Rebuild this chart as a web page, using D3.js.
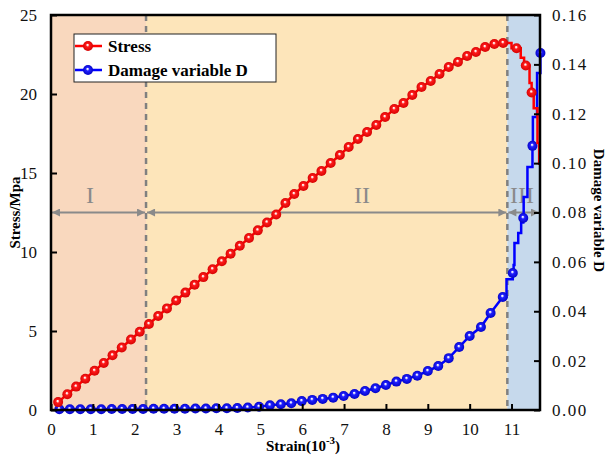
<!DOCTYPE html>
<html>
<head>
<meta charset="utf-8">
<script src="https://cdn.jsdelivr.net/npm/d3@7"></script>
<style>
  body { margin: 0; background: #fff; }
  svg { display: block; }
</style>
</head>
<body>
<div id="chart"></div>
<script>
// données
const stressStrain = [0.17,0.39,0.60,0.82,1.04,1.26,1.47,1.69,1.91,2.12,2.34,2.56,2.77,2.99,3.21,3.43,3.64,3.86,4.08,4.29,4.51,4.73,4.94,5.16,5.38,
  5.60,5.81,6.03,6.25,6.46,6.68,6.90,7.11,7.33,7.55,7.77,7.98,8.20,8.42,8.63,8.85,9.07,9.28,9.50,9.72,9.94,10.15,10.37,10.59,10.80];
const stressValues = [0.50,1.00,1.48,1.98,2.48,2.98,3.46,3.96,4.46,4.95,5.44,5.95,6.43,6.93,7.43,7.93,8.41,8.91,9.41,9.89,10.39,10.89,11.37,11.87,12.37,
  13.10,13.67,14.18,14.68,15.13,15.63,16.14,16.65,17.15,17.59,18.04,18.54,19.05,19.43,19.94,20.44,20.82,21.27,21.71,22.03,22.41,22.66,22.97,23.16,23.23];
// zone III (ligne en escalier)
const stressTailStrain = [10.80,11.00,11.12,11.22,11.30,11.34,11.43,11.48,11.53,11.62,11.66];
const stressTailValues = [23.23,22.90,22.90,22.30,21.80,21.80,20.70,20.10,19.10,16.90,15.50];
const stressTailMarks  = [1,0,1,0,0,1,0,1,0,0,0];

const damageStrain = [0.20,0.45,0.70,0.95,1.20,1.45,1.70,1.95,2.20,2.45,2.70,2.95,3.20,3.45,3.70,3.95,4.20,4.45,4.70,
  4.97,5.23,5.49,5.74,5.99,6.24,6.49,6.74,6.99,7.25,7.50,7.75,8.00,8.25,8.50,8.75,9.00,9.25,9.50,9.75,10.00,10.27,10.50,10.79];
const damageValues = [0.0003,0.0003,0.0003,0.0003,0.0003,0.0004,0.0004,0.0004,0.0004,0.0005,0.0005,0.0005,0.0005,0.0006,0.0006,0.0007,0.0007,0.0008,0.0010,
  0.0013,0.0019,0.0023,0.0027,0.0036,0.0041,0.0045,0.0050,0.0057,0.0065,0.0077,0.0088,0.0101,0.0115,0.0126,0.0139,0.0158,0.0178,0.0210,0.0255,0.0300,0.0336,0.0393,0.0458];
const damageTailStrain = [10.79,10.88,11.03,11.05,11.07,11.16,11.23,11.28,11.29,11.38,11.50,11.51,11.61,11.69];
const damageTailValues = [0.0458,0.0530,0.0555,0.0587,0.0676,0.0717,0.0760,0.0778,0.0863,0.0984,0.1070,0.1187,0.1365,0.1446];
const damageTailMarks  = [1,0,1,0,0,0,0,1,0,0,1,0,0,1];

// zones
const zoneBounds = [0, 2.27, 10.9, 11.68];
const zoneNames = ["I", "II", "III"];
const zoneColors = ["#f9d8be", "#fde5ba", "#c6d9ec"];

const xTicks = [0,1,2,3,4,5,6,7,8,9,10,11];
const yTicks = [0,5,10,15,20,25];
const y2Ticks = [0,0.02,0.04,0.06,0.08,0.10,0.12,0.14,0.16];

const W = 606, H = 463;
const m = { left: 51, right: 66, top: 15, bottom: 53 };
const svg = d3.select("#chart").append("svg").attr("width", W).attr("height", H);

const x = d3.scaleLinear().domain([0, 11.68]).range([m.left, W - m.right]);
const y = d3.scaleLinear().domain([0, 25]).range([H - m.bottom, m.top]);
const y2 = d3.scaleLinear().domain([0, 0.16]).range([H - m.bottom, m.top]);

// dégradés pour les billes
const defs = svg.append("defs");
function bille(id, base, dark) {
  const g = defs.append("radialGradient").attr("id", id)
    .attr("cx", "50%").attr("cy", "50%").attr("r", "55%")
    .attr("fx", "45%").attr("fy", "38%");
  g.append("stop").attr("offset", "0%").attr("stop-color", "#ffffff");
  g.append("stop").attr("offset", "10%").attr("stop-color", "#ffffff").attr("stop-opacity", 0.9);
  g.append("stop").attr("offset", "32%").attr("stop-color", base);
  g.append("stop").attr("offset", "100%").attr("stop-color", dark);
}
bille("gRed", "#ff1a1a", "#d00000");
bille("gBlue", "#2020ff", "#0000c0");
defs.append("marker").attr("id", "arrow").attr("viewBox", "0 0 10 10")
  .attr("refX", 10).attr("refY", 5).attr("markerWidth", 12).attr("markerHeight", 8)
  .attr("markerUnits", "userSpaceOnUse").attr("orient", "auto-start-reverse")
  .append("path").attr("d", "M0,0 L10,5 L0,10 Z").attr("fill", "#8a8a8a");

// fonds des zones
svg.selectAll("rect.zone").data(zoneNames).join("rect").attr("class", "zone")
  .attr("x", (d, i) => x(zoneBounds[i]))
  .attr("y", m.top)
  .attr("width", (d, i) => x(zoneBounds[i + 1]) - x(zoneBounds[i]))
  .attr("height", y(0) - m.top)
  .attr("fill", (d, i) => zoneColors[i]);

// lignes pointillées
svg.selectAll("line.sep").data(zoneBounds.slice(1, 3)).join("line").attr("class", "sep")
  .attr("x1", d => x(d)).attr("x2", d => x(d))
  .attr("y1", m.top).attr("y2", y(0))
  .attr("stroke", "#808080").attr("stroke-width", 2.5).attr("stroke-dasharray", "6,5");

// flèches
const arrowY = y2(0.08);
svg.selectAll("line.arr").data(zoneNames).join("line").attr("class", "arr")
  .attr("x1", (d, i) => x(zoneBounds[i]) + 1)
  .attr("x2", (d, i) => x(zoneBounds[i + 1]) - 1)
  .attr("y1", arrowY).attr("y2", arrowY)
  .attr("stroke", "#8a8a8a").attr("stroke-width", 2)
  .attr("marker-start", "url(#arrow)").attr("marker-end", "url(#arrow)");

const labelX = [90, 362, 522];
svg.selectAll("text.zl").data(zoneNames).join("text").attr("class", "zl")
  .attr("x", (d, i) => labelX[i]).attr("y", 203)
  .attr("text-anchor", "middle")
  .attr("font-family", "Liberation Serif, DejaVu Serif, serif")
  .attr("font-size", 24).attr("fill", "#8a8a8a")
  .text(d => d);

// courbes
const stressPts = stressStrain.map((s, i) => [s, stressValues[i]]);
const stressTail = stressTailStrain.map((s, i) => [s, stressTailValues[i], stressTailMarks[i]]);
const damagePts = damageStrain.map((s, i) => [s, damageValues[i]]);
const damageTail = damageTailStrain.map((s, i) => [s, damageTailValues[i], damageTailMarks[i]]);

const lineS = d3.line().x(d => x(d[0])).y(d => y(d[1]));
const lineD = d3.line().x(d => x(d[0])).y(d => y2(d[1]));

function serie(pts, tail, line, color, grad, yy) {
  svg.append("path").attr("d", line(pts)).attr("fill", "none")
    .attr("stroke", color).attr("stroke-width", 2.5);
  svg.append("path").attr("d", line.curve(d3.curveStepAfter)(tail)).attr("fill", "none")
    .attr("stroke", color).attr("stroke-width", 2.5);
  line.curve(d3.curveLinear);
  const marks = pts.concat(tail.filter(d => d[2] === 1).slice(1));
  svg.append("g").selectAll("circle").data(marks).join("circle")
    .attr("cx", d => x(d[0])).attr("cy", d => yy(d[1])).attr("r", 5)
    .attr("fill", `url(#${grad})`);
}
serie(damagePts, damageTail, lineD, "#0000ff", "gBlue", y2);
serie(stressPts, stressTail, lineS, "#ff0000", "gRed", y);

// cadre
svg.append("rect").attr("x", m.left).attr("y", m.top)
  .attr("width", x(11.68) - m.left).attr("height", y(0) - m.top)
  .attr("fill", "none").attr("stroke", "#000").attr("stroke-width", 2.5);

// axes (graduations vers l'intérieur)
const font = "Liberation Serif, DejaVu Serif, serif";
const axB = svg.append("g").attr("transform", `translate(0,${y(0)})`)
  .call(d3.axisBottom(x).tickValues(xTicks).tickSizeInner(-6).tickSizeOuter(0).tickPadding(13).tickFormat(d3.format("d")));
const axL = svg.append("g").attr("transform", `translate(${m.left},0)`)
  .call(d3.axisLeft(y).tickValues(yTicks).tickSizeInner(-6).tickSizeOuter(0).tickPadding(14));
const axR = svg.append("g").attr("transform", `translate(${x(11.68)},0)`)
  .call(d3.axisRight(y2).tickValues(y2Ticks).tickSizeInner(-6).tickSizeOuter(0).tickPadding(12).tickFormat(d3.format(".2f")));
[axB, axL, axR].forEach(a => {
  a.select(".domain").remove();
  a.selectAll(".tick line").attr("stroke", "#000").attr("stroke-width", 2);
  a.selectAll("text").attr("font-family", font).attr("font-size", 17).attr("fill", "#111");
});
axR.selectAll("text").attr("letter-spacing", 1.5);

// titres des axes
svg.append("text").attr("transform", `translate(20,${(m.top + y(0)) / 2}) rotate(-90)`)
  .attr("text-anchor", "middle").attr("font-family", font).attr("font-weight", "bold")
  .attr("font-size", 15).text("Stress/Mpa");
svg.append("text").attr("transform", `translate(594,${(m.top + y(0)) / 2 - 2}) rotate(90)`)
  .attr("text-anchor", "middle").attr("font-family", font).attr("font-weight", "bold")
  .attr("font-size", 15).text("Damage variable D");
const xt = svg.append("text").attr("x", 303).attr("y", 451).attr("text-anchor", "middle")
  .attr("font-family", font).attr("font-weight", "bold").attr("font-size", 15);
xt.append("tspan").text("Strain(10");
xt.append("tspan").attr("dy", -7).attr("font-size", 11).text("-3");
xt.append("tspan").attr("dy", 7).text(")");

// légende
const legendNames = ["Stress", "Damage variable D"];
const legendColors = ["#ff0000", "#0000ff"];
const legendGrads = ["gRed", "gBlue"];
svg.append("rect").attr("x", 74).attr("y", 34).attr("width", 202).attr("height", 48)
  .attr("fill", "#fff").attr("stroke", "#222").attr("stroke-width", 1);
const lg = svg.append("g").selectAll("g").data(legendNames).join("g")
  .attr("transform", (d, i) => `translate(0,${46 + i * 24})`);
lg.append("line").attr("x1", 75).attr("x2", 102).attr("y1", 0).attr("y2", 0)
  .attr("stroke", (d, i) => legendColors[i]).attr("stroke-width", 2.5);
lg.append("circle").attr("cx", 88).attr("cy", 0).attr("r", 5).attr("fill", (d, i) => `url(#${legendGrads[i]})`);
lg.append("text").attr("x", 108).attr("y", 6).attr("font-family", font).attr("font-weight", "bold")
  .attr("font-size", 17).text(d => d);
</script>
</body>
</html>
